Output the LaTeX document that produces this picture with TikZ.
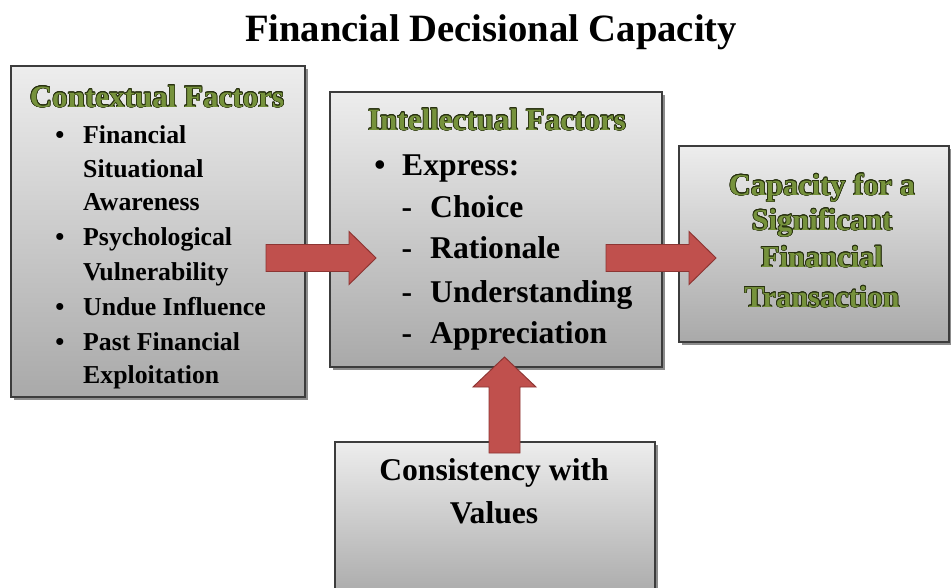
\documentclass[tikz,border=0pt]{standalone}
\usepackage{fontspec}
\setmainfont{Liberation Serif}
\usepackage{contour}
\usetikzlibrary{shadows}
\definecolor{boxtop}{HTML}{EDEDED}
\definecolor{boxbot}{HTML}{A9A9A9}
\definecolor{boxline}{HTML}{3C3C3C}
\definecolor{arrfill}{HTML}{C0504D}
\definecolor{arrline}{HTML}{8C3533}
\definecolor{olive}{HTML}{76923C}
\definecolor{olivedark}{HTML}{27300F}
\contourlength{0.55pt}
\newcommand{\greentext}[1]{\contour{olivedark}{\textcolor{olive}{#1}}}
\begin{document}
\begin{tikzpicture}[x=0.03cm,y=-0.03cm,
  panel/.style={draw=boxline,line width=0.9pt,top color=boxtop,bottom color=boxbot,
    drop shadow={shadow xshift=2.5pt,shadow yshift=-2.5pt,opacity=0.45,fill=black}},
  blockarrow/.style={fill=arrfill,draw=arrline,line width=0.8pt,line join=miter},
  txt/.style={inner sep=0pt,anchor=base west},
  ctxt/.style={inner sep=0pt,anchor=base},
  fctx/.style={font=\fontsize{22pt}{26pt}\selectfont\bfseries},
  fint/.style={font=\fontsize{27pt}{32pt}\selectfont\bfseries},
  fhead/.style={font=\fontsize{26.5pt}{32pt}\selectfont\bfseries},
]
\useasboundingbox (0,0) rectangle (951,587);
\clip (0,0) rectangle (951,587);
\fill[white] (0,0) rectangle (951,587);

% title
\node[ctxt,font=\fontsize{33pt}{40pt}\selectfont\bfseries] (title) at (491,42) {Financial Decisional Capacity};

% boxes
\path[panel] (11,66) rectangle (305,397);
\coordinate (ctxbox) at (158,231);
\path[panel] (330,92) rectangle (662,367);
\coordinate (intbox) at (496,230);
\path[panel] (679,146) rectangle (949,342);
\coordinate (capbox) at (814,244);
\path[panel] (335,442) rectangle (655,600);
\coordinate (conbox) at (495,520);

% contextual factors
\node[ctxt,fhead] (ctitle) at (157,107) {\greentext{Contextual Factors}};
\foreach \y in {143,245,315,350}
  \node[ctxt,fctx] (cb\y) at (60,\y) {\textbullet};
\foreach \t/\y [count=\i] in {Financial/143,Situational/177,Awareness/210,Psychological/245,Vulnerability/280,Undue Influence/315,Past Financial/350,Exploitation/383}
  \node[txt,fctx] (c\i) at (83,\y) {\t};

% intellectual factors
\node[ctxt,fhead] (ititle) at (497,130) {\greentext{Intellectual Factors}};
\node[ctxt,fint] (ib) at (380,175) {\textbullet};
\node[txt,fint] (iexp) at (402,175) {Express:};
\foreach \t/\y [count=\i] in {Choice/217,Rationale/258,Understanding/302,Appreciation/343}{
  \node[ctxt,fint] (id\i) at (407,\y) {-};
  \node[txt,fint] (i\i) at (430,\y) {\t};
}

% capacity
\foreach \t/\y [count=\i] in {Capacity for a/195,Significant/230,Financial/267,Transaction/307}
  \node[ctxt,font=\fontsize{26pt}{30pt}\selectfont\bfseries] (k\i) at (822,\y) {\greentext{\t}};

% consistency
\node[ctxt,fint] (v1) at (494,480) {Consistency with};
\node[ctxt,fint] (v2) at (494,523) {Values};

% arrows
\draw[blockarrow] (266,244.5) -- (349,244.5) -- (349,231.5) -- (376,258) -- (349,284.5) -- (349,271.5) -- (266,271.5) -- cycle;
\draw[blockarrow] (606,244.5) -- (689,244.5) -- (689,231.5) -- (716,258) -- (689,284.5) -- (689,271.5) -- (606,271.5) -- cycle;
\draw[blockarrow] (489,453) -- (489,387) -- (473,387) -- (504.5,357) -- (536,387) -- (520,387) -- (520,453) -- cycle;
\end{tikzpicture}
\end{document}
